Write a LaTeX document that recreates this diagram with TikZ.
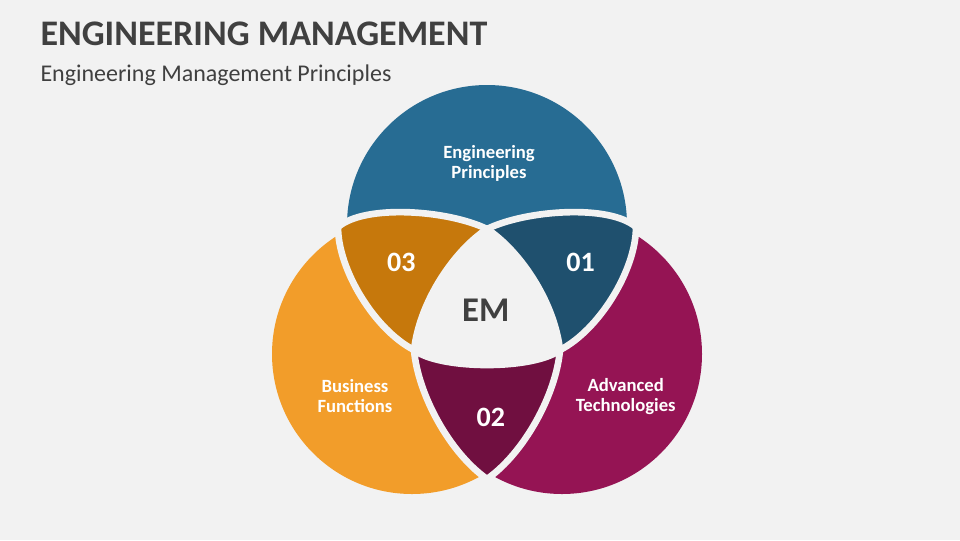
\documentclass[tikz,border=0pt]{standalone}
\usepackage{fontspec}
\setmainfont{Carlito}
\definecolor{bgc}{HTML}{F2F2F2}
\definecolor{ctext}{HTML}{404040}
\definecolor{cblue}{HTML}{276C93}
\definecolor{cblued}{HTML}{1F506E}
\definecolor{corange}{HTML}{F29D2A}
\definecolor{corangd}{HTML}{C6780C}
\definecolor{cpurple}{HTML}{951454}
\definecolor{cpurpld}{HTML}{700F40}
\tikzset{every picture/.style={line width=0.75pt}}
\tikzset{
  gap/.style={draw=bgc, line width=5pt, line cap=round},
  lbl/.style={text=white, align=center, inner sep=0pt, font=\fontsize{14}{15.3}\selectfont\bfseries},
  num/.style={text=white, anchor=base, inner sep=0pt, font=\fontsize{21}{25}\selectfont\bfseries}
}
\begin{document}
\begin{tikzpicture}[x=0.75pt,y=0.75pt,yscale=-1,xscale=1]
        %Background
        \fill[bgc] (0,0) rectangle (960,540);
        \useasboundingbox (0,0) rectangle (960,540);

        %Lobe centres and junctions
        \coordinate (Ao) at (487,225);
        \coordinate (Bo) at (412,354);
        \coordinate (Co) at (562,354);
        \coordinate (JL) at (338,227);
        \coordinate (JR) at (636,227);
        \coordinate (T) at (487,229);
        \coordinate (PL) at (414,350);
        \coordinate (PR) at (560,350);
        \coordinate (JB) at (487,479);

        %Top lobe
        \begin{scope}
        \clip (Ao) circle (140);
        \fill[cblue] (JL) .. controls (365,204) and (448,210) .. (T) .. controls (526,210) and (609,204) .. (JR) -- (720,227) -- (720,60) -- (250,60) -- (250,227) -- cycle;
        \end{scope}
        %Left lobe
        \begin{scope}
        \clip (Bo) circle (140);
        \fill[corange] (JL) .. controls (338,270) and (375,330) .. (PL) .. controls (418,395) and (450,453) .. (JB) -- (487,540) -- (250,540) -- (250,227) -- cycle;
        \end{scope}
        %Right lobe
        \begin{scope}
        \clip (Co) circle (140);
        \fill[cpurple] (JR) .. controls (636,270) and (599,330) .. (PR) .. controls (556,395) and (524,453) .. (JB) -- (487,540) -- (724,540) -- (724,227) -- cycle;
        \end{scope}

        %Overlap 03
        \fill[corangd] (JL) .. controls (365,204) and (448,210) .. (T) .. controls (455,250) and (420,300) .. (PL) .. controls (375,330) and (338,270) .. (JL) -- cycle;
        %Overlap 01
        \fill[cblued] (T) .. controls (526,210) and (609,204) .. (JR) .. controls (636,270) and (599,330) .. (PR) .. controls (554,300) and (519,250) .. (T) -- cycle;
        %Overlap 02
        \fill[cpurpld] (PL) .. controls (440,370) and (534,370) .. (PR) .. controls (556,395) and (524,453) .. (JB) .. controls (450,453) and (418,395) .. (PL) -- cycle;

        %Gaps
        \draw[gap] (JL) .. controls (365,204) and (448,210) .. (T);
        \draw[gap] (T) .. controls (526,210) and (609,204) .. (JR);
        \draw[gap] (JL) .. controls (338,270) and (375,330) .. (PL);
        \draw[gap] (JR) .. controls (636,270) and (599,330) .. (PR);
        \draw[gap] (T) .. controls (455,250) and (420,300) .. (PL);
        \draw[gap] (T) .. controls (519,250) and (554,300) .. (PR);
        \draw[gap] (PL) .. controls (440,370) and (534,370) .. (PR);
        \draw[gap] (PL) .. controls (418,395) and (450,453) .. (JB);
        \draw[gap] (PR) .. controls (556,395) and (524,453) .. (JB);

        %Texts
        \node[anchor=base west, inner sep=0pt, text=ctext, font=\fontsize{27}{32}\selectfont\bfseries] (title) at (40,45.7) {ENGINEERING MANAGEMENT};
        \node[anchor=base west, inner sep=0pt, text=ctext, font=\fontsize{18}{22}\selectfont] (subtitle) at (40,81) {Engineering Management Principles};
        \node[lbl] (lblEP) at (489,163.5) {Engineering\\Principles};
        \node[lbl] (lblBF) at (355,396) {Business\\Functions};
        \node[lbl] (lblAT) at (625.7,396.7) {Advanced\\Technologies};
        \node[num] (num03) at (401.3,271.7) {03};
        \node[num] (num01) at (580.5,271.7) {01};
        \node[num] (num02) at (490.8,426.7) {02};
        \node[anchor=base, inner sep=0pt, text=ctext, font=\fontsize{26}{30}\selectfont\bfseries] (em) at (485.8,321.7) {EM};
\end{tikzpicture}
\end{document}
